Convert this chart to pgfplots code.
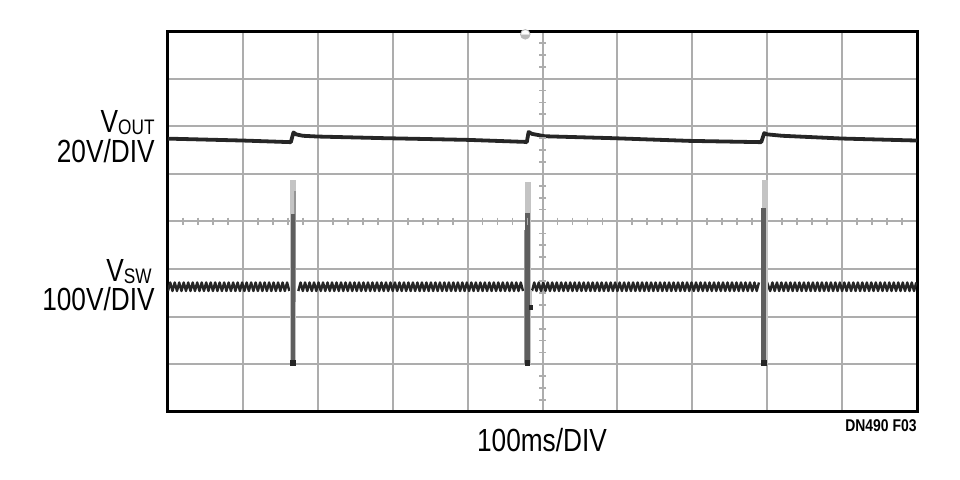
\documentclass[border=0pt]{standalone}
\usepackage{fontspec}
\setmainfont{Liberation Sans}[FakeStretch=0.82]
\usepackage{pgfplots}
\pgfplotsset{compat=1.18}
\definecolor{gridgray}{HTML}{ADADAD}
\definecolor{trace}{HTML}{262626}
\definecolor{spikelight}{HTML}{C4C4C4}
\definecolor{spikemid}{HTML}{959595}
\definecolor{spikedark}{HTML}{5E5E5E}

\begin{document}
\begin{tikzpicture}
\path[use as bounding box] (-84pt,-34pt) rectangle (396pt,206pt);
\begin{axis}[
    scale only axis,
    width=374.5pt,
    height=190.5pt,
    xmin=0, xmax=1000,
    ymin=0, ymax=8,
    xtick={0,100,...,1000},
    ytick={0,1,...,8},
    xticklabels={}, yticklabels={},
    tick style={draw=none},
    grid=major,
    grid style={line width=1pt, gridgray},
    axis line style={line width=1.5pt, black},
]
% graticule ticks on the centre lines
\addplot[only marks, mark=|, mark size=1.9pt, gridgray, mark options={line width=0.9pt}] coordinates {
(20,4)(40,4)(60,4)(80,4)(120,4)(140,4)(160,4)(180,4)(220,4)(240,4)(260,4)(280,4)
(320,4)(340,4)(360,4)(380,4)(420,4)(440,4)(460,4)(480,4)(520,4)(540,4)(560,4)(580,4)
(620,4)(640,4)(660,4)(680,4)(720,4)(740,4)(760,4)(780,4)(820,4)(840,4)(860,4)(880,4)
(920,4)(940,4)(960,4)(980,4)};
\addplot[only marks, mark=-, mark size=1.8pt, gridgray, mark options={line width=0.9pt}] coordinates {
(500,0.25)(500,0.5)(500,0.75)(500,1.25)(500,1.5)(500,1.75)(500,2.25)(500,2.5)(500,2.75)
(500,3.25)(500,3.5)(500,3.75)(500,4.25)(500,4.5)(500,4.75)(500,5.25)(500,5.5)(500,5.75)
(500,6.25)(500,6.5)(500,6.75)(500,7.25)(500,7.5)(500,7.75)};
% trigger marker
\addplot[only marks, mark=halfcircle*, mark size=2.4pt, gray!55, mark options={rotate=180}] coordinates {(477,7.93)};

% V_OUT
\addplot[line width=1.9pt, trace, line join=round] coordinates {
(0,5.74)(100,5.70)(164,5.666)(167.5,5.87)(171,5.83)(180,5.80)(200,5.784)(288,5.75)
(400,5.714)(476,5.672)(479,5.666)(481.5,5.88)(486,5.84)(503,5.79)(593,5.75)(696,5.693)
(792,5.666)(796,5.855)(800,5.83)(820,5.80)(900,5.742)(1000,5.70)};

% V_SW switching ripple
\addplot[line width=1.2pt, trace, line join=round] coordinates {
(0,2.54)(3,2.72)(6,2.54)(9,2.72)(12,2.54)(15,2.72)(18,2.54)(21,2.72)(24,2.54)(27,2.72)
(30,2.54)(33,2.72)(36,2.54)(39,2.72)(42,2.54)(45,2.72)(48,2.54)(51,2.72)(54,2.54)(57,2.72)
(60,2.54)(63,2.72)(66,2.54)(69,2.72)(72,2.54)(75,2.72)(78,2.54)(81,2.72)(84,2.54)(87,2.72)
(90,2.54)(93,2.72)(96,2.54)(99,2.72)(102,2.54)(105,2.72)(108,2.54)(111,2.72)(114,2.54)(117,2.72)
(120,2.54)(123,2.72)(126,2.54)(129,2.72)(132,2.54)(135,2.72)(138,2.54)(141,2.72)(144,2.54)(147,2.72)
(150,2.54)(153,2.72)(156,2.54)(159,2.72)(162,2.54)};
\addplot[line width=1.2pt, trace, line join=round] coordinates {
(174,2.54)(177,2.72)(180,2.54)(183,2.72)(186,2.54)(189,2.72)(192,2.54)(195,2.72)(198,2.54)(201,2.72)
(204,2.54)(207,2.72)(210,2.54)(213,2.72)(216,2.54)(219,2.72)(222,2.54)(225,2.72)(228,2.54)(231,2.72)
(234,2.54)(237,2.72)(240,2.54)(243,2.72)(246,2.54)(249,2.72)(252,2.54)(255,2.72)(258,2.54)(261,2.72)
(264,2.54)(267,2.72)(270,2.54)(273,2.72)(276,2.54)(279,2.72)(282,2.54)(285,2.72)(288,2.54)(291,2.72)
(294,2.54)(297,2.72)(300,2.54)(303,2.72)(306,2.54)(309,2.72)(312,2.54)(315,2.72)(318,2.54)(321,2.72)
(324,2.54)(327,2.72)(330,2.54)(333,2.72)(336,2.54)(339,2.72)(342,2.54)(345,2.72)(348,2.54)(351,2.72)
(354,2.54)(357,2.72)(360,2.54)(363,2.72)(366,2.54)(369,2.72)(372,2.54)(375,2.72)(378,2.54)(381,2.72)
(384,2.54)(387,2.72)(390,2.54)(393,2.72)(396,2.54)(399,2.72)(402,2.54)(405,2.72)(408,2.54)(411,2.72)
(414,2.54)(417,2.72)(420,2.54)(423,2.72)(426,2.54)(429,2.72)(432,2.54)(435,2.72)(438,2.54)(441,2.72)
(444,2.54)(447,2.72)(450,2.54)(453,2.72)(456,2.54)(459,2.72)(462,2.54)(465,2.72)(468,2.54)(471,2.72)
(474,2.54)};
\addplot[line width=1.2pt, trace, line join=round] coordinates {
(486,2.54)(489,2.72)(492,2.54)(495,2.72)(498,2.54)(501,2.72)(504,2.54)(507,2.72)(510,2.54)(513,2.72)
(516,2.54)(519,2.72)(522,2.54)(525,2.72)(528,2.54)(531,2.72)(534,2.54)(537,2.72)(540,2.54)(543,2.72)
(546,2.54)(549,2.72)(552,2.54)(555,2.72)(558,2.54)(561,2.72)(564,2.54)(567,2.72)(570,2.54)(573,2.72)
(576,2.54)(579,2.72)(582,2.54)(585,2.72)(588,2.54)(591,2.72)(594,2.54)(597,2.72)(600,2.54)(603,2.72)
(606,2.54)(609,2.72)(612,2.54)(615,2.72)(618,2.54)(621,2.72)(624,2.54)(627,2.72)(630,2.54)(633,2.72)
(636,2.54)(639,2.72)(642,2.54)(645,2.72)(648,2.54)(651,2.72)(654,2.54)(657,2.72)(660,2.54)(663,2.72)
(666,2.54)(669,2.72)(672,2.54)(675,2.72)(678,2.54)(681,2.72)(684,2.54)(687,2.72)(690,2.54)(693,2.72)
(696,2.54)(699,2.72)(702,2.54)(705,2.72)(708,2.54)(711,2.72)(714,2.54)(717,2.72)(720,2.54)(723,2.72)
(726,2.54)(729,2.72)(732,2.54)(735,2.72)(738,2.54)(741,2.72)(744,2.54)(747,2.72)(750,2.54)(753,2.72)
(756,2.54)(759,2.72)(762,2.54)(765,2.72)(768,2.54)(771,2.72)(774,2.54)(777,2.72)(780,2.54)(783,2.72)
(786,2.54)(789,2.72)};
\addplot[line width=1.2pt, trace, line join=round] coordinates {
(797,2.84)(804,2.54)(807,2.72)(810,2.54)(813,2.72)(816,2.54)(819,2.72)(822,2.54)(825,2.72)(828,2.54)(831,2.72)
(834,2.54)(837,2.72)(840,2.54)(843,2.72)(846,2.54)(849,2.72)(852,2.54)(855,2.72)(858,2.54)(861,2.72)
(864,2.54)(867,2.72)(870,2.54)(873,2.72)(876,2.54)(879,2.72)(882,2.54)(885,2.72)(888,2.54)(891,2.72)
(894,2.54)(897,2.72)(900,2.54)(903,2.72)(906,2.54)(909,2.72)(912,2.54)(915,2.72)(918,2.54)(921,2.72)
(924,2.54)(927,2.72)(930,2.54)(933,2.72)(936,2.54)(939,2.72)(942,2.54)(945,2.72)(948,2.54)(951,2.72)
(954,2.54)(957,2.72)(960,2.54)(963,2.72)(966,2.54)(969,2.72)(972,2.54)(975,2.72)(978,2.54)(981,2.72)
(984,2.54)(987,2.72)(990,2.54)(993,2.72)(996,2.54)(999,2.72)};

% switching spikes
\addplot[line width=2.8pt, spikelight] coordinates {(166.5,1.0)(166.5,4.87)};
\addplot[line width=1.4pt, spikemid] coordinates {(169.5,2.3)(169.5,4.65)};
\addplot[line width=2.4pt, spikedark] coordinates {(167,1.0)(167,4.15)};
\addplot[only marks, mark=square*, mark size=1.1pt, trace] coordinates {(167,1.03)};

\addplot[line width=2.8pt, spikelight] coordinates {(480.5,1.0)(480.5,4.82)};
\addplot[line width=1.4pt, spikelight] coordinates {(484.5,2.15)(484.5,2.56)};
\addplot[line width=1.0pt, spikemid] coordinates {(476.5,1.0)(476.5,3.82)};
\addplot[line width=2.4pt, spikedark] coordinates {(479.8,1.0)(479.8,4.18)};
\addplot[only marks, mark=square*, mark size=0.9pt, trace] coordinates {(484.5,2.2)};
\addplot[only marks, mark=square*, mark size=1.1pt, trace] coordinates {(479.8,1.03)};

\addplot[line width=2.8pt, spikelight] coordinates {(797,1.0)(797,4.87)};
\addplot[line width=2.4pt, spikedark] coordinates {(795.5,1.0)(795.5,4.29)};
\addplot[only marks, mark=square*, mark size=1.1pt, trace] coordinates {(795.5,1.03)};
\end{axis}

\begin{scope}[every node/.style={inner sep=0pt, font=\fontsize{16pt}{17pt}\selectfont}]
\node[anchor=base east] at (-6.5pt,139.5pt)
    {V\raisebox{-1pt}{\fontsize{10.5pt}{11pt}\selectfont OUT}};
\node[anchor=base east] at (-6.5pt,124.5pt) {20V/DIV};
\node[anchor=base east] at (-8pt,65pt)
    {V\raisebox{-1pt}{\fontsize{10.5pt}{11pt}\selectfont SW}};
\node[anchor=base east] at (-6.5pt,50.5pt) {100V/DIV};
\node[anchor=base] at (187pt,-20pt) {100ms/DIV};
\node[anchor=base east, font=\fontsize{8.5pt}{9pt}\selectfont\bfseries] at (374.5pt,-10pt) {DN490 F03};
\end{scope}
\end{tikzpicture}
\end{document}
